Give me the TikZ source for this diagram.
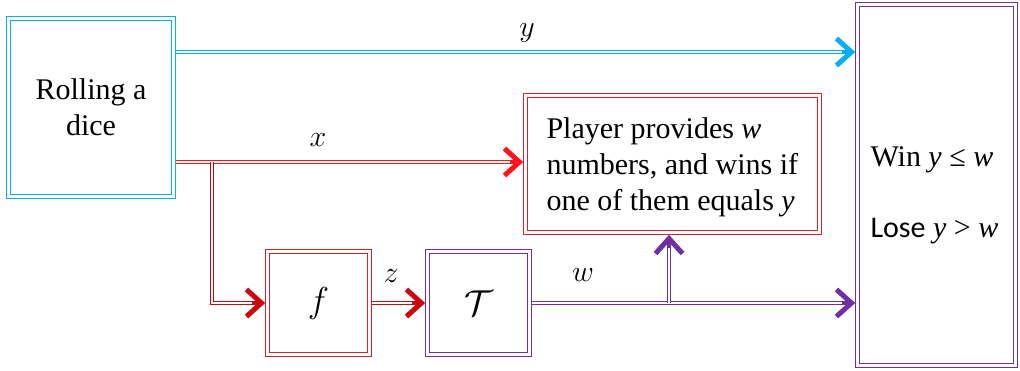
\RequirePackage{fix-cm}
\documentclass[tikz,border=0pt]{standalone}
\usepackage{fontspec}
\setmainfont{Liberation Serif}
\newfontfamily\calibri{Carlito}
\usetikzlibrary{arrows.meta}
\definecolor{cy}{RGB}{0,176,240}
\definecolor{rd}{RGB}{250,20,30}
\definecolor{drd}{RGB}{200,10,15}
\definecolor{bxr}{RGB}{210,35,45}
\definecolor{pu}{RGB}{112,48,160}
\tikzset{
  dbox/.style={draw, double=white, double distance=2.4pt, line width=1.1pt, inner sep=0pt, outer sep=2.3pt, rectangle},
  conn/.style={line width=3.3pt, line join=miter, postaction={draw=white, line width=1.2pt, arrows=-, shorten >=13pt}},
  tip/.style={-{Straight Barb[length=15pt,width=27pt,line width=5pt]}},
  lbl/.style={font=\fontsize{30}{36}\selectfont},
  txt/.style={font=\fontsize{30}{36}\selectfont}
}
\begin{document}
\begin{tikzpicture}[x=1pt,y=-1pt]
\useasboundingbox (0,0) rectangle (1020,370);
\node[dbox, draw=cy, minimum width=165pt, minimum height=178pt, txt, align=center] (roll) at (91,107.5) {Rolling a\\dice};
\node[dbox, draw=pu, minimum width=158pt, minimum height=361pt] (res) at (936.5,185) {};
\node[dbox, draw=bxr, minimum width=294pt, minimum height=137pt] (player) at (672.5,164) {};
\node[txt, anchor=west, align=left] (ptext) at (543,167) {Player provides \textit{w}\\numbers, and wins if\\one of them equals \textit{y}};
\node[dbox, draw=bxr, minimum width=102pt, minimum height=103pt, font=\fontsize{36}{40}\selectfont] (f) at (318.5,303) {$f$};
\node[dbox, draw=pu, minimum width=102pt, minimum height=103pt, font=\fontsize{36}{40}\selectfont] (T) at (478.5,303) {$\mathcal{T}$};
\node[txt, anchor=west] (win) at (867,160) {Win \textit{y} ≤ \textit{w}};
\node[txt, anchor=west] (lose) at (867,231) {{\calibri Lose} \textit{y} > \textit{w}};
\coordinate (bx) at (212,162);
\coordinate (by) at (669,303);
\draw[conn, draw=cy, tip] (roll.east |- 0,52) -- (res.west |- 0,52);
\draw[conn, draw=rd, tip] (roll.east |- bx) -- (player.west |- bx);
\draw[conn, draw=drd, tip] (bx) -- (bx |- f.west) -- (f.west);
\draw[conn, draw=drd, tip] (f.east) -- (T.west);
\draw[conn, draw=pu, tip] (T.east) -- (res.west |- T.east);
\draw[conn, draw=pu, tip] (by) -- (by |- player.south);
\node[lbl] (ly) at (527,33) {$y$};
\node[lbl] (lx) at (318,140) {$x$};
\node[lbl] (lz) at (391,276) {$z$};
\node[lbl] (lw) at (583,275) {$w$};
\end{tikzpicture}
\end{document}
